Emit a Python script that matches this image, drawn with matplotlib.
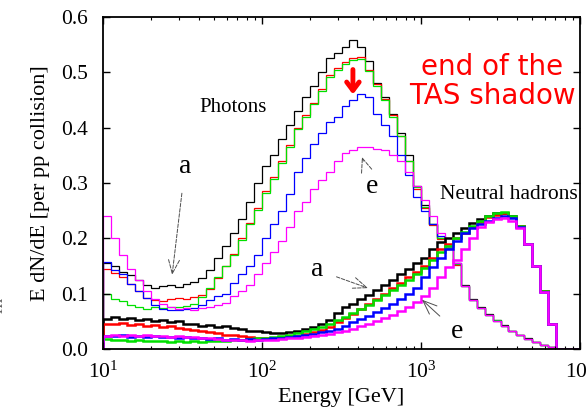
import numpy as np
import matplotlib.pyplot as plt

plt.rcParams['font.family'] = ['Liberation Serif', 'DejaVu Serif']
plt.rcParams['mathtext.fontset'] = 'custom'
plt.rcParams['mathtext.rm'] = 'Liberation Serif'
plt.rcParams['mathtext.it'] = 'Liberation Serif:italic'

# 20 log bins per decade, 10 GeV .. 10 TeV
bin_edges = np.logspace(1, 4, 61)

# photons (a = black ... e = magenta)
photon_a = [0.155, 0.15, 0.14, 0.134, 0.124, 0.115, 0.11, 0.113, 0.116, 0.112, 0.118, 0.121,
            0.128, 0.142, 0.165, 0.186, 0.21, 0.235, 0.265, 0.3, 0.33, 0.35, 0.38, 0.405,
            0.43, 0.455, 0.475, 0.5, 0.525, 0.535, 0.545, 0.558, 0.545, 0.52, 0.48, 0.455,
            0.425, 0.39, 0.35, 0.295, 0.26, 0.225, 0.2, 0.185, 0.155, 0.115, 0.09, 0.075,
            0.063, 0.052, 0.043, 0.033, 0.026, 0.019, 0.013, 0.008, 0.003, 0, 0, 0]
photon_b = [0.145, 0.138, 0.13, 0.118, 0.104, 0.092, 0.088, 0.087, 0.09, 0.092, 0.091, 0.094,
            0.098, 0.108, 0.128, 0.15, 0.172, 0.2, 0.228, 0.255, 0.285, 0.31, 0.34, 0.368,
            0.4, 0.422, 0.445, 0.47, 0.495, 0.508, 0.518, 0.525, 0.527, 0.505, 0.478, 0.452,
            0.422, 0.385, 0.34, 0.29, 0.255, 0.224, 0.198, 0.18, 0.152, 0.113, 0.089, 0.074,
            0.062, 0.051, 0.042, 0.032, 0.025, 0.018, 0.012, 0.007, 0.003, 0, 0, 0]
photon_c = [0.1, 0.09, 0.087, 0.08, 0.076, 0.073, 0.076, 0.074, 0.075, 0.075, 0.078, 0.082,
            0.094, 0.11, 0.13, 0.15, 0.17, 0.197, 0.225, 0.252, 0.282, 0.307, 0.337, 0.365,
            0.397, 0.42, 0.442, 0.467, 0.492, 0.505, 0.515, 0.522, 0.524, 0.503, 0.476, 0.45,
            0.42, 0.384, 0.34, 0.292, 0.256, 0.226, 0.2, 0.182, 0.153, 0.114, 0.089, 0.074,
            0.062, 0.052, 0.042, 0.033, 0.025, 0.018, 0.012, 0.007, 0.003, 0, 0, 0]
photon_d = [0.158, 0.142, 0.135, 0.118, 0.104, 0.093, 0.08, 0.073, 0.07, 0.07, 0.072, 0.074,
            0.08, 0.088, 0.095, 0.1, 0.12, 0.135, 0.15, 0.17, 0.2, 0.225, 0.25, 0.28,
            0.32, 0.345, 0.37, 0.39, 0.41, 0.42, 0.44, 0.45, 0.46, 0.455, 0.425, 0.405,
            0.385, 0.35, 0.315, 0.275, 0.25, 0.225, 0.205, 0.185, 0.155, 0.114, 0.088, 0.074,
            0.062, 0.051, 0.042, 0.032, 0.025, 0.018, 0.012, 0.007, 0.003, 0, 0, 0]
photon_e = [0.24, 0.2, 0.17, 0.145, 0.125, 0.105, 0.09, 0.082, 0.076, 0.072, 0.074, 0.07,
            0.074, 0.076, 0.08, 0.083, 0.095, 0.105, 0.115, 0.135, 0.155, 0.175, 0.195, 0.22,
            0.25, 0.265, 0.29, 0.305, 0.32, 0.34, 0.355, 0.36, 0.365, 0.365, 0.362, 0.36,
            0.35, 0.34, 0.32, 0.295, 0.27, 0.24, 0.21, 0.185, 0.155, 0.113, 0.088, 0.074,
            0.062, 0.051, 0.042, 0.032, 0.025, 0.018, 0.012, 0.007, 0.003, 0, 0, 0]

# neutral hadrons
hadron_a = [0.055, 0.058, 0.055, 0.056, 0.052, 0.055, 0.05, 0.053, 0.048, 0.05, 0.045, 0.046,
            0.042, 0.044, 0.04, 0.041, 0.038, 0.036, 0.033, 0.032, 0.03, 0.028, 0.029, 0.03,
            0.033, 0.036, 0.04, 0.045, 0.052, 0.065, 0.075, 0.082, 0.09, 0.098, 0.107, 0.115,
            0.125, 0.135, 0.145, 0.155, 0.165, 0.18, 0.193, 0.2, 0.21, 0.218, 0.228, 0.235,
            0.24, 0.245, 0.245, 0.24, 0.222, 0.19, 0.15, 0.105, 0.045, 0, 0, 0]
hadron_b = [0.046, 0.045, 0.047, 0.044, 0.045, 0.042, 0.043, 0.04, 0.041, 0.038, 0.037, 0.035,
            0.033, 0.03, 0.028, 0.026, 0.025, 0.023, 0.022, 0.02, 0.02, 0.019, 0.02, 0.022,
            0.024, 0.027, 0.03, 0.035, 0.04, 0.048, 0.056, 0.064, 0.072, 0.082, 0.09, 0.1,
            0.11, 0.12, 0.13, 0.14, 0.15, 0.165, 0.18, 0.19, 0.2, 0.21, 0.22, 0.23,
            0.238, 0.243, 0.245, 0.238, 0.222, 0.19, 0.15, 0.105, 0.045, 0, 0, 0]
hadron_c = [0.018, 0.016, 0.017, 0.015, 0.016, 0.014, 0.015, 0.014, 0.013, 0.014, 0.013, 0.014,
            0.013, 0.014, 0.015, 0.014, 0.016, 0.017, 0.018, 0.019, 0.02, 0.022, 0.024, 0.026,
            0.029, 0.032, 0.036, 0.04, 0.045, 0.052, 0.058, 0.065, 0.072, 0.08, 0.088, 0.097,
            0.106, 0.115, 0.125, 0.135, 0.146, 0.16, 0.175, 0.187, 0.2, 0.212, 0.222, 0.232,
            0.24, 0.246, 0.247, 0.24, 0.222, 0.19, 0.15, 0.104, 0.045, 0, 0, 0]
hadron_d = [0.024, 0.023, 0.025, 0.022, 0.024, 0.022, 0.023, 0.021, 0.022, 0.02, 0.021, 0.019,
            0.02, 0.018, 0.019, 0.017, 0.018, 0.017, 0.018, 0.017, 0.018, 0.019, 0.02, 0.021,
            0.023, 0.025, 0.027, 0.03, 0.033, 0.037, 0.042, 0.048, 0.054, 0.06, 0.066, 0.074,
            0.082, 0.09, 0.1, 0.11, 0.13, 0.148, 0.165, 0.18, 0.195, 0.21, 0.218, 0.226,
            0.232, 0.237, 0.24, 0.237, 0.22, 0.19, 0.15, 0.103, 0.045, 0, 0, 0]
hadron_e = [0.023, 0.025, 0.024, 0.026, 0.024, 0.025, 0.023, 0.024, 0.022, 0.023, 0.021, 0.022,
            0.02, 0.019, 0.018, 0.017, 0.016, 0.016, 0.015, 0.016, 0.016, 0.017, 0.018, 0.019,
            0.02, 0.021, 0.023, 0.025, 0.027, 0.03, 0.033, 0.037, 0.041, 0.046, 0.05, 0.056,
            0.062, 0.068, 0.076, 0.085, 0.095, 0.11, 0.13, 0.148, 0.16, 0.18, 0.2, 0.22,
            0.23, 0.235, 0.237, 0.232, 0.218, 0.19, 0.15, 0.103, 0.045, 0, 0, 0]

colors = ['black', '#ff0000', '#00e000', '#0000ff', '#ff00ff']

fig = plt.figure(figsize=(5.87, 4.17), dpi=100)
ax = fig.add_axes([0.1755, 0.1631, 0.8126, 0.7962])

for vals, c in zip([photon_a, photon_b, photon_c, photon_d, photon_e], colors):
    ax.stairs(vals, bin_edges, color=c, lw=0.9)
for vals, c in zip([hadron_a, hadron_b, hadron_c, hadron_d, hadron_e], colors):
    ax.stairs(vals, bin_edges, color=c, lw=1.8)

ax.set_xscale('log')
ax.set_xlim(10, 1e4)
ax.set_ylim(0, 0.6)
ax.set_yticks([0.0, 0.1, 0.2, 0.3, 0.4, 0.5, 0.6])
ax.set_yticklabels(['0.0', '0.1', '0.2', '0.3', '0.4', '0.5', '0.6'])
ax.tick_params(which='both', direction='in', top=True, right=True, labelsize=15.5)
ax.tick_params(which='major', length=5, width=1)
ax.tick_params(which='minor', length=2.5, width=0.8)
ax.tick_params(axis='y', pad=11)
ax.tick_params(axis='x', pad=9)
for s in ax.spines.values():
    s.set_linewidth(1.3)

ax.set_xlabel('Energy [GeV]', fontsize=16, labelpad=4)
ax.set_ylabel('E dN/dE [per pp collision]', fontsize=16, labelpad=8)

ax.text(66, 0.436, 'Photons', fontsize=15, ha='center', va='center')
ax.text(3570, 0.28, 'Neutral hadrons', fontsize=15.5, ha='center', va='center')
ax.text(2800, 0.483, 'end of the\nTAS shadow', color='red', fontsize=20,
        family='DejaVu Sans', ha='center', va='center', linespacing=1.05)

ax.annotate('', xy=(373, 0.455), xytext=(373, 0.51),
            arrowprops=dict(arrowstyle='->,head_length=0.6,head_width=0.45', color='red', lw=3.5))

thin = dict(arrowstyle='->,head_length=0.5,head_width=0.2', color='0.3', lw=0.7)
ax.annotate('a', xy=(27.2, 0.134), xytext=(32.8, 0.329), fontsize=20, ha='center', va='center',
            arrowprops=dict(thin, linestyle='--', shrinkA=8, shrinkB=0))
ax.annotate('e', xy=(425, 0.347), xytext=(492, 0.293), fontsize=20, ha='center', va='center',
            arrowprops=dict(thin, linestyle='--', shrinkA=8, shrinkB=0))
ax.annotate('a', xy=(464, 0.11), xytext=(222, 0.143), fontsize=20, ha='center', va='center',
            arrowprops=dict(thin, linestyle='--', shrinkA=8, shrinkB=0))
ax.annotate('e', xy=(1014, 0.089), xytext=(1683, 0.031), fontsize=20, ha='center', va='center',
            arrowprops=dict(thin, shrinkA=8, shrinkB=0))

# clipped fragment at the left edge
fig.text(-0.004, 0.27, 'rn', rotation=90, fontsize=14, color='0.4', ha='center', va='center')

plt.savefig('out.png', dpi=100)
